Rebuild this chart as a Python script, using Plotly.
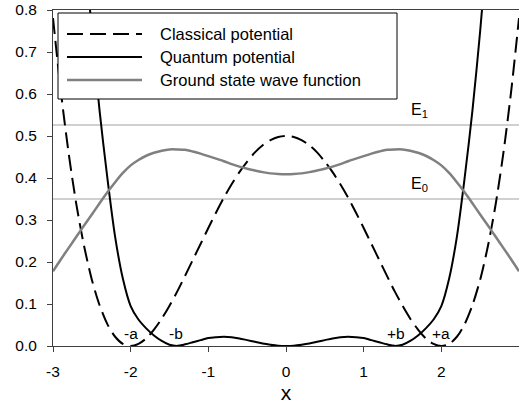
import plotly.graph_objects as go

# positions along x (step 0.1)
x = [-3.0, -2.9, -2.8, -2.7, -2.6, -2.5, -2.4, -2.3, -2.2, -2.1,
     -2.0, -1.9, -1.8, -1.7, -1.6, -1.5, -1.4, -1.3, -1.2, -1.1,
     -1.0, -0.9, -0.8, -0.7, -0.6, -0.5, -0.4, -0.3, -0.2, -0.1,
     0.0, 0.1, 0.2, 0.3, 0.4, 0.5, 0.6, 0.7, 0.8, 0.9,
     1.0, 1.1, 1.2, 1.3, 1.4, 1.5, 1.6, 1.7, 1.8, 1.9,
     2.0, 2.1, 2.2, 2.3, 2.4, 2.5, 2.6, 2.7, 2.8, 2.9, 3.0]

classical = [0.781, 0.608, 0.461, 0.338, 0.238, 0.158, 0.097, 0.052, 0.022, 0.005,
             0.0, 0.005, 0.018, 0.039, 0.065, 0.096, 0.130, 0.167, 0.205, 0.243,
             0.281, 0.318, 0.353, 0.385, 0.414, 0.439, 0.461, 0.478, 0.490, 0.4975,
             0.5, 0.4975, 0.490, 0.478, 0.461, 0.439, 0.414, 0.385, 0.353, 0.318,
             0.281, 0.243, 0.205, 0.167, 0.130, 0.096, 0.065, 0.039, 0.018, 0.005,
             0.0, 0.005, 0.022, 0.052, 0.097, 0.158, 0.238, 0.338, 0.461, 0.608, 0.781]

quantum = [2.15, 1.81, 1.50, 1.22, 0.97, 0.75, 0.56, 0.40, 0.26, 0.16,
           0.095, 0.063, 0.042, 0.025, 0.012, 0.003, 0.0003, 0.004, 0.009, 0.014,
           0.019, 0.021, 0.022, 0.021, 0.018, 0.014, 0.010, 0.006, 0.003, 0.0007,
           0.0, 0.0007, 0.003, 0.006, 0.010, 0.014, 0.018, 0.021, 0.022, 0.021,
           0.019, 0.014, 0.009, 0.004, 0.0003, 0.003, 0.012, 0.025, 0.042, 0.063,
           0.095, 0.16, 0.26, 0.40, 0.56, 0.75, 0.97, 1.22, 1.50, 1.81, 2.15]

wave = [0.178, 0.206, 0.233, 0.260, 0.287, 0.313, 0.340, 0.366, 0.390, 0.412,
        0.430, 0.443, 0.453, 0.460, 0.465, 0.468, 0.468, 0.467, 0.463, 0.458,
        0.452, 0.446, 0.440, 0.433, 0.427, 0.422, 0.418, 0.414, 0.411, 0.4095,
        0.409, 0.4095, 0.411, 0.414, 0.418, 0.422, 0.427, 0.433, 0.440, 0.446,
        0.452, 0.458, 0.463, 0.467, 0.468, 0.468, 0.465, 0.460, 0.453, 0.443,
        0.430, 0.412, 0.390, 0.366, 0.340, 0.313, 0.287, 0.260, 0.233, 0.206, 0.178]

energies = [0.35, 0.526]
energy_names = ["E<sub>0</sub>", "E<sub>1</sub>"]

point_labels = ["-a", "-b", "+b", "+a"]
point_x = [-2.0, -1.42, 1.42, 2.0]

x_ticks = [-3, -2, -1, 0, 1, 2, 3]
x_tick_text = ["-3", "-2", "-1", "0", "1", "2", "3"]

series_names = ["Classical potential", "Quantum potential", "Ground state wave function"]

FONT = "Arial, Liberation Sans, sans-serif"
W, H = 519, 404
ML, MR, MT, MB = 53, 0, 10, 58


def px_x(p):
    return (p - ML) / (W - ML - MR)


def px_y(p):
    return (H - MB - p) / (H - MT - MB)


fig = go.Figure()

for e in energies:
    fig.add_trace(go.Scatter(x=[x[0], x[-1]], y=[e, e], mode="lines",
                             line=dict(color="#c0c0c0", width=1.5),
                             showlegend=False, hoverinfo="skip"))

styles = [dict(color="black", width=2, dash="16px,7px"),
          dict(color="black", width=2),
          dict(color="#808080", width=2.5)]

for name, ys, st in zip(series_names, [classical, quantum, wave], styles):
    fig.add_trace(go.Scatter(x=x, y=ys, mode="lines", name=name,
                             line=dict(shape="spline", smoothing=0.8, **st),
                             showlegend=False))

# hand-made legend box like the original
shapes = [dict(type="rect", xref="paper", yref="paper",
               x0=px_x(58), x1=px_x(397), y0=px_y(99), y1=px_y(13),
               line=dict(color="black", width=1), fillcolor="white", layer="above")]
annotations = []
for i, (name, st) in enumerate(zip(series_names, styles)):
    yy = px_y(34 + 23 * i)
    shapes.append(dict(type="line", xref="paper", yref="paper",
                       x0=px_x(67), x1=px_x(142), y0=yy, y1=yy,
                       line=st, layer="above"))
    annotations.append(dict(xref="paper", yref="paper", x=px_x(158), y=yy,
                            text=name, showarrow=False, xanchor="left", yanchor="middle",
                            font=dict(family=FONT, size=16.5, color="black")))

for e, lab in zip(energies, energy_names):
    annotations.append(dict(x=1.72, y=e + 0.035, text=lab, showarrow=False,
                            font=dict(family=FONT, size=16, color="black")))

for lab, px in zip(point_labels, point_x):
    annotations.append(dict(x=px, y=0.03, text=lab, showarrow=False,
                            font=dict(family=FONT, size=15.5, color="black")))

fig.update_layout(
    width=W, height=H,
    margin=dict(l=ML, r=MR, t=MT, b=MB),
    plot_bgcolor="white", paper_bgcolor="white",
    font=dict(family=FONT, size=15.5, color="black"),
    shapes=shapes, annotations=annotations,
    xaxis=dict(range=[-3, 3], tickvals=x_ticks, ticktext=x_tick_text,
               showgrid=False, zeroline=False, automargin=False,
               showline=True, linecolor="#404040", linewidth=1, mirror=True,
               ticks="outside", ticklen=5, tickcolor="#404040", ticklabelstandoff=6,
               title=dict(text="x", font=dict(size=21), standoff=6)),
    yaxis=dict(range=[0, 0.8], dtick=0.1, tickformat=".1f", showgrid=False, zeroline=False,
               showline=True, linecolor="#404040", linewidth=1, automargin=False,
               ticks="outside", ticklen=5, tickcolor="#404040", ticklabelstandoff=7),
)

# the page's default body margin would shift the whole figure by 8px
fig.write_html("out.html", config={"displayModeBar": False},
               post_script="document.body.style.margin = '0';")
